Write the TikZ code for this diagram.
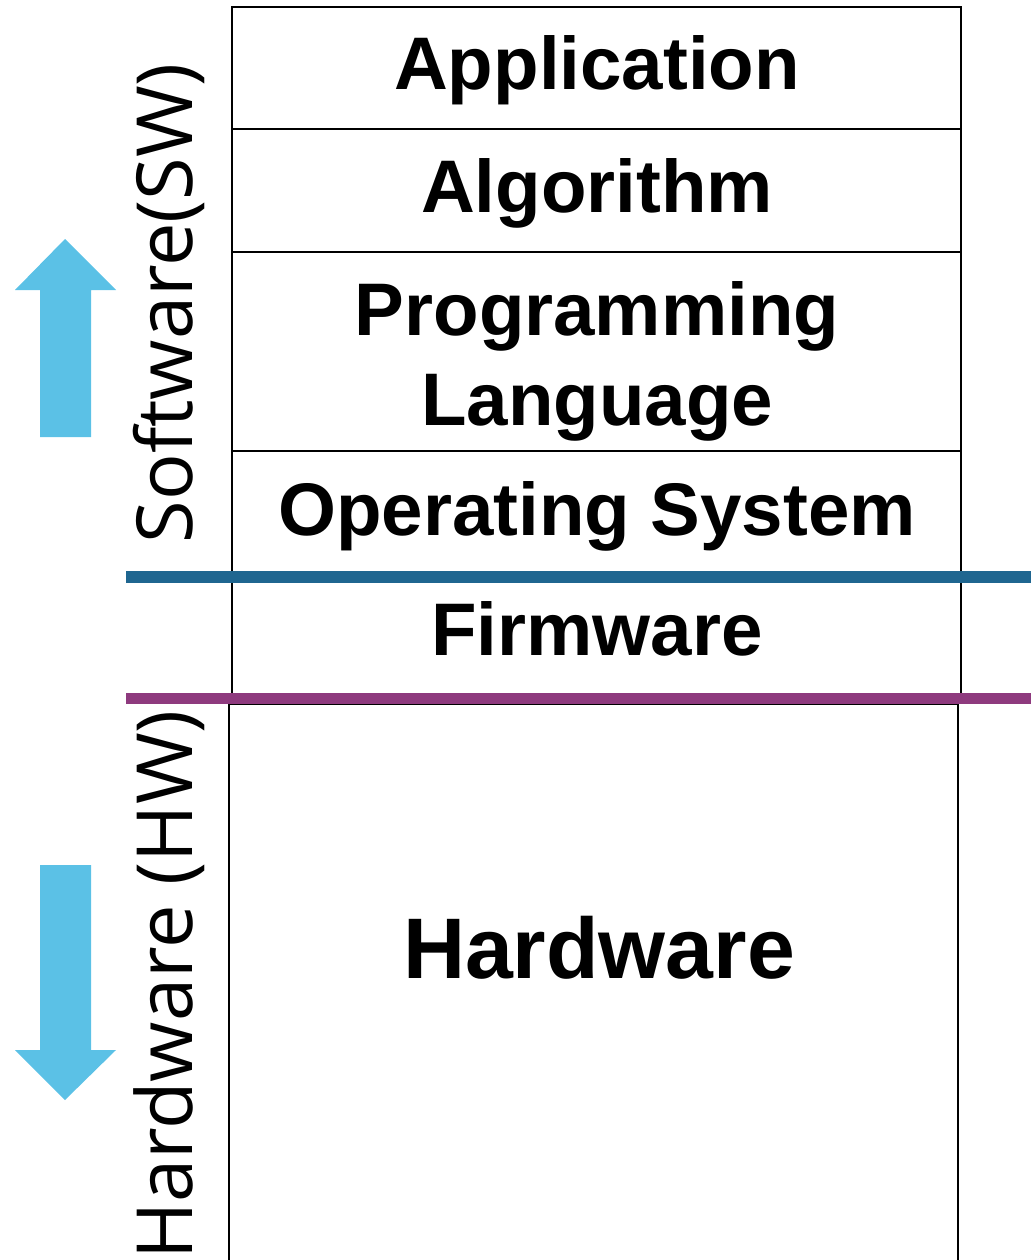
\documentclass[tikz,border=0pt]{standalone}
\usepackage{fontspec}
\setmainfont{Liberation Sans}
\newfontfamily\sidefont{Open Sans}
\definecolor{swline}{HTML}{1F6690}
\definecolor{hwline}{HTML}{8E3A7E}
\definecolor{arrowblue}{HTML}{5BC1E6}
\begin{document}
\begin{tikzpicture}[x=1pt,y=1pt,
  layerbox/.style={draw=black, line width=2pt},
  layertext/.style={font=\fontsize{74.5}{90}\selectfont\bfseries, anchor=base, inner sep=0pt, align=center},
  bigtext/.style={font=\fontsize{86}{100}\selectfont\bfseries, anchor=base, inner sep=0pt},
  sidetext/.style={font=\sidefont\fontsize{77.5}{90}\selectfont, rotate=90, anchor=base east, inner sep=0pt},
  divider/.style={line width=11.5pt},
  dirarrow/.style={fill=arrowblue, draw=none}]
\useasboundingbox (0,0) rectangle (1031,-1260);

% software stack, application down to firmware
\draw[layerbox] (232,-7) rectangle (961,-697);
\foreach \yy in {129,252,451,572}
  \draw[layerbox] (232,-\yy) -- (961,-\yy);

% hardware block, open at the bottom
\draw[layerbox] (229,-1262) -- (229,-704) -- (958,-704) -- (958,-1262);

% layer names (a two-line node is anchored at its last baseline)
\node[layertext] (app)  at (597,-90)  {Application};
\node[layertext] (alg)  at (597,-212) {Algorithm};
\node[layertext] (lang) at (597,-425) {Programming\\Language};
\node[layertext] (os)   at (597,-535) {Operating System};
\node[layertext] (fw)   at (597,-655) {Firmware};
\node[bigtext]   (hw)   at (599,-978) {Hardware};

% boundaries between the domains
\draw[divider, swline] (126,-577) -- (1031,-577);
\draw[divider, hwline] (126,-698.5) -- (1031,-698.5);

% direction arrows
\fill[dirarrow] (40,-437) -- (40,-290) -- (15,-290) -- (65,-239)
  -- (116,-290) -- (91,-290) -- (91,-437) -- cycle;
\fill[dirarrow] (40,-865) -- (40,-1050) -- (15,-1050) -- (65,-1100)
  -- (116,-1050) -- (91,-1050) -- (91,-865) -- cycle;

% side captions
\node[sidetext] (sw) at (192,-63)  {Software(SW)};
\node[sidetext] (hwl) at (192,-710) {Hardware (HW)};
\end{tikzpicture}
\end{document}
